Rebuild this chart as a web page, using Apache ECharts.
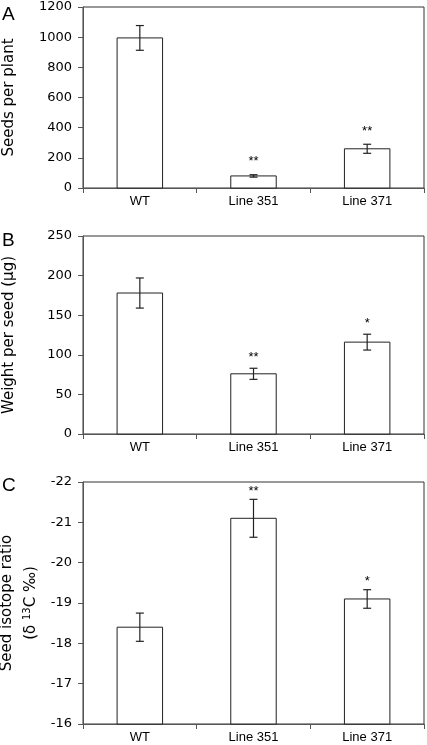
<!DOCTYPE html>
<html>
<head>
<meta charset="utf-8">
<script src="https://cdn.jsdelivr.net/npm/echarts@6/dist/echarts.min.js"></script>
<style>
html,body{margin:0;padding:0;background:#fff;}
#chart{width:427px;height:745px;}
</style>
</head>
<body>
<div id="chart"></div>
<script>
var categories = ['WT', 'Line 351', 'Line 371'];

var seedsMean = [995, 80, 260];
var seedsErr = [82, 8, 30];
var seedsSig = ['', '**', '**'];
var seedsTicks = [0, 1200, 200];

var weightMean = [178, 76, 116];
var weightErr = [19, 7, 10];
var weightSig = ['', '**', '*'];
var weightTicks = [0, 250, 50];

var isoMean = [-18.4, -21.1, -19.1];
var isoErr = [0.35, 0.47, 0.23];
var isoSig = ['', '**', '*'];
var isoTicks = [-22, -16, 1];

var numFont = '"DejaVu Sans", Verdana, sans-serif';
var catFont = '"Liberation Sans", Arial, sans-serif';

var chart = echarts.init(document.getElementById('chart'), null, {renderer: 'canvas'});

function makeData(mean, err) {
  return mean.map(function (m, i) { return [i, m, err[i]]; });
}

function makeRender(base) {
  return function (params, api) {
    var i = api.value(0);
    var m = api.value(1);
    var e = api.value(2);
    var bw = api.size([1, 0])[0] * 0.4;
    var pTop = api.coord([i, m]);
    var pBase = api.coord([i, base]);
    var pHi = api.coord([i, m + (base < m ? e : -e)]);
    var pLo = api.coord([i, m - (base < m ? e : -e)]);
    var x = pTop[0];
    var capW = 4;
    var children = [
      {type: 'rect', shape: {x: x - bw / 2, y: Math.min(pTop[1], pBase[1]), width: bw, height: Math.abs(pBase[1] - pTop[1])},
       style: {fill: '#fff', stroke: '#222', lineWidth: 1}},
      {type: 'line', shape: {x1: x, y1: pHi[1], x2: x, y2: pLo[1]}, style: {stroke: '#222', lineWidth: 1.2}},
      {type: 'line', shape: {x1: x - capW, y1: pHi[1], x2: x + capW, y2: pHi[1]}, style: {stroke: '#222', lineWidth: 1.2}},
      {type: 'line', shape: {x1: x - capW, y1: pLo[1], x2: x + capW, y2: pLo[1]}, style: {stroke: '#222', lineWidth: 1.2}}
    ];
    return {type: 'group', children: children};
  };
}

function starRender(base, starGap, sigArr) {
  return function (params, api) {
    var i = api.value(0);
    var m = api.value(1);
    var e = api.value(2);
    var pHi = api.coord([i, m + (base < m ? e : -e)]);
    return {type: 'text', x: pHi[0], y: pHi[1] - starGap,
      style: {text: sigArr[i], fill: '#000', font: '13px ' + catFont, align: 'center', verticalAlign: 'middle'}};
  };
}

function yAxisCfg(ticks, name, nameGap, gridIndex, inverse, nameExtra) {
  var cfg = {
    type: 'value', gridIndex: gridIndex, min: ticks[0], max: ticks[1], interval: ticks[2], inverse: !!inverse,
    name: name, nameLocation: 'middle', nameRotate: 90, nameGap: nameGap, nameMoveOverlap: false,
    nameTextStyle: {fontFamily: numFont, fontSize: 15, color: '#000'},
    axisLine: {show: true, lineStyle: {color: '#555', width: 1}},
    axisTick: {show: true, length: 5, lineStyle: {color: '#555'}},
    axisLabel: {fontFamily: numFont, fontSize: 13, color: '#000', margin: 11,
      formatter: function (v) { return String(v); }},
    splitLine: {show: false}
  };
  if (nameExtra) { for (var k in nameExtra) cfg.nameTextStyle[k] = nameExtra[k]; }
  return cfg;
}

function xAxisCfg(gridIndex) {
  return {
    type: 'category', gridIndex: gridIndex, data: categories, position: 'bottom',
    axisLine: {show: true, onZero: false, lineStyle: {color: '#555', width: 1}},
    axisTick: {show: true, length: 5, alignWithLabel: false, lineStyle: {color: '#555'}},
    axisLabel: {fontFamily: catFont, fontSize: 13, color: '#000', margin: 7},
    splitLine: {show: false}
  };
}

var gridBase = {left: 83, right: 3, show: true, borderColor: '#333', borderWidth: 1, backgroundColor: 'transparent',
  containLabel: false, outerBoundsMode: 'none'};
function grid(top, height) {
  return Object.assign({}, gridBase, {top: top, height: height});
}

var option = {
  animation: false,
  backgroundColor: '#fff',
  title: [
    {text: 'A', left: 2, top: 5, padding: 0, textStyle: {fontFamily: catFont, fontSize: 19, fontWeight: 'normal', color: '#000'}},
    {text: 'B', left: 2, top: 231, padding: 0, textStyle: {fontFamily: catFont, fontSize: 19, fontWeight: 'normal', color: '#000'}},
    {text: 'C', left: 2, top: 476, padding: 0, textStyle: {fontFamily: catFont, fontSize: 19, fontWeight: 'normal', color: '#000'}}
  ],
  grid: [grid(7, 181), grid(236, 198), grid(482, 242)],
  xAxis: [xAxisCfg(0), xAxisCfg(1), xAxisCfg(2)],
  yAxis: [
    yAxisCfg(seedsTicks, 'Seeds per plant', 66, 0),
    yAxisCfg(weightTicks, 'Weight per seed (\u00b5g)', 66, 1),
    yAxisCfg(isoTicks, '{a|Seed isotope ratio}\n{a|(\u03b4 }{sup|13}{a|C \u2030)}', 40, 2, true, {
      lineHeight: 24,
      rich: {
        a: {fontFamily: numFont, fontSize: 15, color: '#000', lineHeight: 24},
        sup: {fontFamily: numFont, fontSize: 10, color: '#000', lineHeight: 24, padding: [0, 0, 8, 0]}
      }
    })
  ],
  series: [
    {type: 'custom', xAxisIndex: 0, yAxisIndex: 0, renderItem: makeRender(0), data: makeData(seedsMean, seedsErr), clip: false},
    {type: 'custom', xAxisIndex: 0, yAxisIndex: 0, renderItem: starRender(0, 13, seedsSig), data: makeData(seedsMean, seedsErr), clip: false},
    {type: 'custom', xAxisIndex: 1, yAxisIndex: 1, renderItem: makeRender(0), data: makeData(weightMean, weightErr), clip: false},
    {type: 'custom', xAxisIndex: 1, yAxisIndex: 1, renderItem: starRender(0, 11, weightSig), data: makeData(weightMean, weightErr), clip: false},
    {type: 'custom', xAxisIndex: 2, yAxisIndex: 2, renderItem: makeRender(-16), data: makeData(isoMean, isoErr), clip: false},
    {type: 'custom', xAxisIndex: 2, yAxisIndex: 2, renderItem: starRender(-16, 8, isoSig), data: makeData(isoMean, isoErr), clip: false}
  ]
};
chart.setOption(option);
</script>
</body>
</html>
